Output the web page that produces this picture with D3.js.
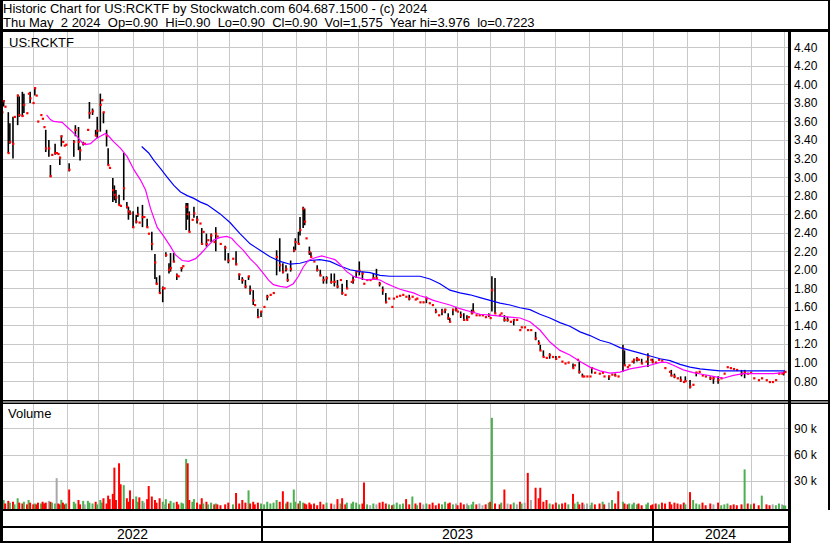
<!DOCTYPE html>
<html><head><meta charset="utf-8">
<script src="https://cdn.jsdelivr.net/npm/d3@7"></script>
<style>body{margin:0;background:#fff}svg{display:block}text{font-family:Arial,"Liberation Sans",sans-serif;fill:#000}</style>
</head><body><svg id="c" width="830" height="543"></svg>
<script>
// ---- data (trading-day index from May 2 2022) ----
const dayIdx = [
1,2,3,5,6,8,9,11,12,14, 15,17,18,19,21,22,23,24,26,27, 28,29,31,32,33,35,36,37,38,39, 40,41,42,44,47,48,50,51,53,54,
56,57,59,61,62,64,65,66,68,69, 70,72,73,74,76,77,79,81,82,83, 85,87,88,89,91,92,94,95,97,99, 100,102,104,105,106,108,109,111,113,114,
116,117,119,120,121,123,124,126,128,129, 130,132,133,135,137,138,139,141,144,146, 149,151,153,155,157,159,160,162,163,165, 167,169,171,173,175,177,179,181,183,184,
186,188,189,191,192,194,195,196,198,199, 201,203,205,207,209,212,214,216,218,219, 221,222,225,226,228,230,232,233,235,237, 239,241,243,245,247,249,251,252,254,256,
258,260,262,264,266,267,269,271,273,275, 277,279,281,283,285,287,288,290,292,293, 295,297,299,300,302,303,305,307,309,311, 313,314,315,317,320,321,323,325,327,329,
331,333,334,336,338,340,343,345,346,348, 350,352,354,356,358,360,362,364,367,368, 370,371,373,374,376,378,379,381,384,386, 387,390,392,394,396,399,400,402,403,405,
406,408,409,411,414,415,417,418,420,422, 424,426,429,430,432,434,436,438,439,442, 444,446,448,450,452,455,457,460,462,464, 466,468,470,472,475,477,479,481,483,486,
488,491,493,495,497,499,501,502,503];
const highs = [
3.80,3.83,3.76,3.70,3.58,3.65,3.65,3.89,3.87,3.92, 3.90,3.69,3.90,3.92,3.80,3.97,3.88,3.60,3.67,3.63, 3.54,3.51,3.40,3.13,3.24,3.36,3.26,3.25,3.22,3.45, 3.38,3.34,3.35,3.15,3.40,3.56,3.54,3.33,3.38,3.36,
3.51,3.81,3.74,3.51,3.65,3.90,3.83,3.70,3.51,3.31, 3.10,2.99,2.91,2.86,2.81,2.69,3.26,2.73,2.68,2.64, 2.63,2.59,2.68,2.51,2.70,2.57,2.55,2.39,2.41,2.17, 1.92,1.94,1.82,1.80,2.19,2.07,2.18,2.18,1.96,1.93,
2.03,2.04,2.72,2.72,2.63,2.54,2.68,2.58,2.50,2.45, 2.41,2.39,2.32,2.39,2.30,2.46,2.36,2.28,2.26,2.18, 2.12,2.20,1.96,1.92,1.89,1.93,1.83,1.78,1.62,1.58, 1.55,1.60,1.73,1.73,1.75,2.21,2.34,2.07,2.05,1.96,
2.10,2.25,2.34,2.41,2.57,2.68,2.66,2.34,2.25,2.19, 2.09,2.05,2.00,1.93,1.93,1.96,1.96,1.89,1.89,1.85, 1.73,1.89,1.87,1.93,1.98,2.09,1.98,1.85,1.89,1.89, 1.96,2.01,1.87,1.82,1.75,1.69,1.60,1.69,1.71,1.72,
1.73,1.71,1.73,1.71,1.68,1.69,1.65,1.65,1.71,1.64, 1.62,1.58,1.51,1.58,1.58,1.53,1.48,1.58,1.60,1.55, 1.55,1.53,1.51,1.49,1.57,1.64,1.51,1.51,1.51,1.49, 1.53,1.48,1.93,1.91,1.51,1.53,1.51,1.49,1.44,1.46,
1.46,1.35,1.38,1.38,1.35,1.35,1.33,1.24,1.19,1.13, 1.05,1.10,1.06,1.07,1.06,1.01,0.99,1.00,0.99,0.97, 1.03,1.01,0.88,0.85,0.85,0.85,0.95,0.89,0.88,0.89, 0.85,0.86,0.87,0.88,0.85,1.19,1.13,0.95,0.97,1.01,
1.04,1.06,1.03,1.04,1.01,1.10,1.03,1.04,1.00,1.03, 1.02,0.94,0.90,0.92,0.88,0.83,0.85,0.79,0.85,0.81, 0.76,0.90,0.90,0.86,0.85,0.85,0.85,0.85,0.83,0.88, 0.95,0.94,0.93,0.92,0.92,0.92,0.88,0.89,0.83,0.81,
0.83,0.81,0.79,0.79,0.81,0.88,0.88,0.90,0.90];
const lows = [
3.52,3.76,3.76,3.26,3.36,3.20,3.65,3.56,3.65,3.65, 3.69,3.69,3.90,3.80,3.80,3.88,3.88,3.60,3.67,3.63, 3.54,3.27,3.22,3.00,3.24,3.24,3.26,3.25,3.13,3.33, 3.38,3.34,3.35,3.06,3.22,3.44,3.29,3.18,3.34,3.36,
3.51,3.63,3.67,3.44,3.42,3.49,3.83,3.58,3.33,3.13, 3.10,2.73,2.75,2.72,2.70,2.69,2.75,2.66,2.54,2.59, 2.45,2.50,2.57,2.51,2.46,2.57,2.46,2.39,2.21,1.90, 1.84,1.75,1.65,1.80,2.14,1.96,1.98,2.08,1.89,1.93,
1.98,2.04,2.43,2.54,2.41,2.54,2.56,2.50,2.50,2.28, 2.41,2.25,2.32,2.30,2.30,2.20,2.36,2.28,2.10,2.07, 2.12,2.05,1.89,1.85,1.80,1.89,1.73,1.62,1.62,1.48, 1.49,1.60,1.67,1.73,1.75,1.94,1.98,1.96,1.98,1.87,
1.98,2.19,2.21,2.28,2.37,2.45,2.48,2.34,2.16,2.14, 2.09,1.98,1.93,1.85,1.85,1.85,1.82,1.80,1.89,1.73, 1.73,1.80,1.87,1.85,1.91,1.94,1.89,1.85,1.89,1.89, 1.89,1.89,1.82,1.73,1.64,1.69,1.60,1.69,1.71,1.72,
1.73,1.71,1.67,1.71,1.68,1.69,1.65,1.65,1.64,1.64, 1.62,1.53,1.51,1.51,1.53,1.46,1.44,1.51,1.55,1.55, 1.48,1.46,1.46,1.49,1.53,1.53,1.51,1.51,1.51,1.49, 1.49,1.48,1.55,1.53,1.51,1.53,1.44,1.44,1.44,1.40,
1.46,1.35,1.38,1.38,1.35,1.35,1.24,1.19,1.13,1.06, 1.05,1.04,1.06,1.03,1.06,1.01,0.99,1.00,0.94,0.97, 1.03,0.88,0.85,0.85,0.85,0.85,0.88,0.89,0.88,0.89, 0.85,0.81,0.87,0.85,0.85,0.90,0.97,0.95,0.97,1.01,
0.99,1.01,1.03,0.99,1.01,0.95,1.03,0.99,1.00,1.03, 1.02,0.94,0.90,0.85,0.83,0.83,0.79,0.79,0.79,0.72, 0.76,0.85,0.90,0.86,0.85,0.81,0.77,0.77,0.83,0.88, 0.95,0.94,0.93,0.92,0.85,0.83,0.88,0.89,0.83,0.81,
0.83,0.81,0.79,0.79,0.81,0.88,0.88,0.86,0.90];
const closes = [
3.70,3.82,3.76,3.26,3.38,3.36,3.65,3.88,3.67,3.66, 3.78,3.69,3.90,3.85,3.80,3.96,3.88,3.60,3.67,3.63, 3.54,3.31,3.31,3.01,3.24,3.26,3.26,3.25,3.21,3.44, 3.38,3.34,3.35,3.08,3.38,3.51,3.38,3.29,3.36,3.36,
3.51,3.69,3.71,3.45,3.50,3.78,3.83,3.70,3.45,3.13, 3.10,2.86,2.81,2.78,2.70,2.69,2.88,2.68,2.63,2.61, 2.46,2.52,2.60,2.51,2.57,2.57,2.46,2.39,2.28,2.08, 1.85,1.75,1.80,1.80,2.16,2.00,2.02,2.09,1.94,1.93,
2.02,2.04,2.68,2.60,2.41,2.54,2.61,2.54,2.50,2.28, 2.41,2.28,2.32,2.37,2.30,2.39,2.36,2.28,2.24,2.10, 2.12,2.06,1.95,1.89,1.82,1.93,1.78,1.67,1.62,1.49, 1.55,1.60,1.71,1.73,1.75,2.14,2.05,1.98,2.01,1.89,
2.01,2.21,2.30,2.28,2.43,2.66,2.52,2.34,2.19,2.14, 2.09,2.00,1.94,1.89,1.91,1.87,1.87,1.82,1.89,1.75, 1.73,1.80,1.87,1.89,1.98,1.99,1.96,1.85,1.89,1.89, 1.91,1.91,1.85,1.78,1.65,1.69,1.60,1.69,1.71,1.72,
1.73,1.71,1.69,1.71,1.68,1.69,1.65,1.65,1.69,1.64, 1.62,1.55,1.51,1.55,1.57,1.48,1.44,1.57,1.57,1.55, 1.51,1.46,1.46,1.49,1.53,1.55,1.51,1.51,1.51,1.49, 1.51,1.48,1.78,1.53,1.51,1.53,1.46,1.46,1.44,1.46,
1.46,1.35,1.38,1.38,1.35,1.35,1.26,1.21,1.13,1.06, 1.05,1.08,1.06,1.04,1.06,1.01,0.99,1.00,0.94,0.97, 1.03,0.90,0.85,0.85,0.85,0.85,0.94,0.89,0.88,0.89, 0.85,0.85,0.87,0.86,0.85,1.15,0.97,0.95,0.97,1.01,
1.03,1.04,1.03,0.99,1.01,1.06,1.03,1.01,1.00,1.03, 1.02,0.94,0.90,0.86,0.85,0.83,0.81,0.79,0.80,0.74, 0.76,0.89,0.90,0.86,0.85,0.83,0.83,0.81,0.83,0.88, 0.95,0.94,0.93,0.92,0.88,0.90,0.88,0.89,0.83,0.81,
0.83,0.81,0.79,0.79,0.81,0.88,0.88,0.89,0.90];
const volumesK = [
6,8,4,7,5,6,3,10,5,4, 6,3,8,5,3,4,3,5,4,6, 4,5,7,6,5,4,33,4,3,8, 5,3,4,20,6,4,8,3,7,3,
7,5,4,6,3,8,5,10,4,13, 9,15,45,8,50,26,25,10,6,19, 9,12,6,11,7,5,9,24,12,8, 5,10,6,3,9,4,7,5,6,3,
5,4,55,50,8,6,9,5,3,10, 4,6,3,5,3,4,3,2,3,5, 3,16,4,8,5,19,4,6,3,5, 4,3,6,4,5,8,6,18,4,6,
5,20,6,4,7,5,4,3,5,3, 4,2,6,3,5,4,3,9,4,10, 3,5,4,6,5,3,4,28,3,2, 4,3,5,6,4,3,2,3,5,3,
4,9,3,12,4,2,5,3,4,3, 5,2,4,3,6,4,5,3,4,2, 5,3,4,2,3,6,3,4,2,3, 5,6,102,4,3,5,20,4,3,5,
3,6,4,5,39,8,22,10,22,6, 8,4,3,5,3,4,5,3,15,4, 6,3,5,3,4,2,5,3,4,6, 3,5,8,4,18,6,4,3,4,3,
5,3,4,2,3,5,2,3,4,3, 5,4,6,3,5,4,3,5,3,17, 8,4,3,5,2,4,3,5,2,3, 4,2,3,2,3,43,4,3,4,2,
13,3,2,3,2,4,3,2,1.6];

// moving averages (day index, value)
const maShortDay = [29.5,32,34,39.5,42.7,46,49,52.4,54.5,57.7,61,64,67.3,69.4,72.6,77,81.2,85.5,89.7,93,96.2,100.4,104.7,109,112.2,116.5,120.7,125,128.2,132.5,136.6,140.8,145,148.2,151.4,155.7,160,164.2,168.5,171.7,174.9,179.2,183.5,187.7,191,194.1,197.3,201.6,205.9,210.2,214.4,217.6,221.9,226.2,230.5,234.7,239,243.3,247.6,251.8,256.1,260.4,264.7,268.9,273.2,277.5,281.7,288.1,294.5,301,307.4,313.8,320.2,326.6,333,339.4,345.8,352.2,358.6,365,371.5,377.9,384.3,390.7,397.1,403.5,410,416.4,422.8,427,431.3,437.7,444.1,450.5,456.9,463.4,469.8,476.2,482.6,489,495.4,501.8];
const maShortVal = [3.67,3.62,3.60,3.59,3.54,3.49,3.44,3.37,3.35,3.36,3.41,3.44,3.47,3.44,3.38,3.31,3.22,3.08,2.97,2.86,2.66,2.46,2.36,2.25,2.16,2.10,2.09,2.12,2.17,2.25,2.32,2.35,2.36,2.34,2.28,2.21,2.12,2.05,1.96,1.89,1.84,1.82,1.81,1.85,1.93,2.03,2.10,2.13,2.15,2.13,2.11,2.06,1.98,1.93,1.91,1.89,1.90,1.89,1.85,1.82,1.79,1.77,1.75,1.72,1.70,1.67,1.65,1.62,1.58,1.55,1.52,1.51,1.50,1.49,1.48,1.44,1.35,1.22,1.13,1.08,1.01,0.95,0.91,0.885,0.895,0.93,0.95,0.97,1.00,1.00,0.97,0.92,0.89,0.87,0.85,0.83,0.86,0.88,0.88,0.88,0.88,0.89];
const maLongDay = [90.5,95,98.3,102.6,106.8,111.1,115.4,119.7,123.9,128.2,132.5,136.8,141,147.1,153.5,160,166.4,172.8,179.2,185.6,192,198.4,204.8,211.2,217.6,224.1,230.5,236.9,243.3,249.7,256.1,262.5,268.9,275.3,281.7,288.1,294.5,301,307.4,313.8,320.2,326.6,333,339.4,345.8,352.2,358.6,365,371.5,377.9,384.3,390.7,397.1,403.5,410,416.4,422.8,429.2,435.6,442,448.4,454.8,461.2,469.8,480.5,491.1,502.9];
const maLongVal = [3.33,3.26,3.18,3.09,3.00,2.91,2.84,2.80,2.77,2.73,2.70,2.65,2.60,2.51,2.39,2.28,2.21,2.14,2.09,2.06,2.07,2.10,2.11,2.09,2.04,2.00,1.98,1.97,1.94,1.93,1.93,1.93,1.93,1.90,1.85,1.78,1.75,1.73,1.70,1.67,1.64,1.62,1.59,1.57,1.52,1.48,1.43,1.39,1.33,1.29,1.24,1.21,1.16,1.13,1.10,1.07,1.04,1.02,0.98,0.95,0.93,0.92,0.91,0.91,0.91,0.91,0.91];

const monthGridDays = [21,42.5,62.5,85,104.2,126,146.5,167.6,189.4,208.7,229.2,251.6,272.1,292.6,313.8,335.6,355.4,377.2,398.4,418.3,440.1,460.6,481.1,502.2];
const yearStartDays = [167.6, 418.3];
const yearLabels = ["2022", "2023", "2024"];
const priceTicks = [0.8,1.0,1.2,1.4,1.6,1.8,2.0,2.2,2.4,2.6,2.8,3.0,3.2,3.4,3.6,3.8,4.0,4.2,4.4];
const volTicksK = [30, 60, 90];
const titleLine1 = "Historic Chart for US:RCKTF by Stockwatch.com 604.687.1500 - (c) 2024";
const titleLine2 = "Thu May  2 2024  Op=0.90  Hi=0.90  Lo=0.90  Cl=0.90  Vol=1,575  Year hi=3.976  lo=0.7223";
const symbol = "US:RCKTF";

// ---- layout ----
const L = 3, R = 788, PT = 32, PB = 401, VT = 403, VB = 509;
const svg = d3.select("#c");
const x = d3.scaleLinear().domain([0, 504]).range([0.5, 0.5 + 504 * 1.56]);
const y = d3.scaleLinear().domain([0.8, 4.4]).range([381, 47.3]);
const yv = d3.scaleLinear().domain([0, 90]).range([507, 428.3]);
const GRID = "#c8c8c8";

const defs = svg.append("defs");
defs.append("clipPath").attr("id", "cp").append("rect").attr("x", L).attr("y", PT).attr("width", R - L).attr("height", PB - PT - 1);
defs.append("clipPath").attr("id", "cv").append("rect").attr("x", L).attr("y", VT).attr("width", R - L).attr("height", VB - VT);

const g = svg.append("g");
// grid
const vg = g.append("g").attr("stroke", GRID).attr("stroke-width", 1);
monthGridDays.forEach(d => {
  const xx = Math.round(x(d)) + 0.5;
  vg.append("line").attr("x1", xx).attr("x2", xx).attr("y1", PT).attr("y2", PB);
  vg.append("line").attr("x1", xx).attr("x2", xx).attr("y1", VT).attr("y2", VB);
});
priceTicks.forEach(p => {
  const yy = Math.round(y(p)) + 0.5;
  vg.append("line").attr("x1", L).attr("x2", R).attr("y1", yy).attr("y2", yy);
});
volTicksK.forEach(v => {
  const yy = Math.round(yv(v)) + 0.5;
  vg.append("line").attr("x1", L).attr("x2", R).attr("y1", yy).attr("y2", yy);
});

// volume bars
const vb = g.append("g").attr("clip-path", "url(#cv)");
dayIdx.forEach((d, k) => {
  const prev = k > 0 ? closes[k - 1] : closes[k] - 1;
  const col = closes[k] > prev ? "#4caf50" : (closes[k] < prev ? "#ff0000" : "#a8a8a8");
  const top = yv(volumesK[k]);
  vb.append("rect").attr("x", x(d) - 1).attr("width", 2).attr("y", top).attr("height", VB - top).attr("fill", col);
});

// price bars
const pb = g.append("g").attr("clip-path", "url(#cp)");
dayIdx.forEach((d, k) => {
  if (highs[k] > lows[k]) {
    pb.append("line").attr("x1", x(d)).attr("x2", x(d)).attr("y1", y(highs[k])).attr("y2", y(lows[k]))
      .attr("stroke", "#000").attr("stroke-width", 1.6);
  }
});
dayIdx.forEach((d, k) => {
  pb.append("rect").attr("x", x(d) - 0.8).attr("y", y(closes[k]) - 1).attr("width", 2.2).attr("height", 2.2).attr("fill", "#ff0000");
});
// moving averages
const line = d3.line().x(d => x(d[0])).y(d => y(d[1]));
pb.append("path").attr("d", line(maLongDay.map((d, i) => [d, maLongVal[i]]))).attr("fill", "none").attr("stroke", "#0000ff").attr("stroke-width", 1.2);
pb.append("path").attr("d", line(maShortDay.map((d, i) => [d, maShortVal[i]]))).attr("fill", "none").attr("stroke", "#ff00ff").attr("stroke-width", 1.2);

// frame
const f = svg.append("g").attr("fill", "#000");
f.append("rect").attr("x", 0).attr("y", 0).attr("width", 830).attr("height", 1);
f.append("rect").attr("x", 0).attr("y", 29).attr("width", 830).attr("height", 3);
f.append("rect").attr("x", 0).attr("y", 0).attr("width", 3).attr("height", 543);
f.append("rect").attr("x", 828).attr("y", 0).attr("width", 2).attr("height", 510);
f.append("rect").attr("x", R).attr("y", PT).attr("width", 3).attr("height", 543 - PT);
f.append("rect").attr("x", 0).attr("y", 400).attr("width", 830).attr("height", 1.5);
f.append("rect").attr("x", 0).attr("y", 402.5).attr("width", 830).attr("height", 1.5);
f.append("rect").attr("x", 0).attr("y", VB).attr("width", R + 2).attr("height", 2);
f.append("rect").attr("x", 0).attr("y", 526).attr("width", R + 2).attr("height", 2);
f.append("rect").attr("x", 0).attr("y", 541).attr("width", R + 2).attr("height", 2);
yearStartDays.forEach(d => {
  f.append("rect").attr("x", Math.round(x(d)) - 1).attr("y", VB).attr("width", 2).attr("height", 543 - VB);
});

// texts
const t = svg.append("g");
t.append("text").attr("x", 3).attr("y", 13).attr("font-size", 13).text(titleLine1);
t.append("text").attr("x", 3).attr("y", 27).attr("font-size", 13).attr("xml:space", "preserve").style("white-space", "pre").text(titleLine2);
t.append("text").attr("x", 9).attr("y", 47).attr("font-size", 13).text(symbol);
t.append("text").attr("x", 8).attr("y", 418).attr("font-size", 13).text("Volume");
priceTicks.forEach(p => {
  t.append("text").attr("x", 794).attr("y", y(p) + 4.5).attr("font-size", 12).text(d3.format(".2f")(p));
});
volTicksK.forEach(v => {
  t.append("text").attr("x", 794).attr("y", yv(v) + 4.5).attr("font-size", 12).text(v + " k");
});
const bounds = [0, ...yearStartDays, 504];
yearLabels.forEach((lab, i) => {
  const a = i === 0 ? L : x(bounds[i]);
  const b = i === yearLabels.length - 1 ? R : x(bounds[i + 1]);
  t.append("text").attr("x", (a + b) / 2).attr("y", 539).attr("font-size", 14).attr("text-anchor", "middle").text(lab);
});
</script></body></html>
